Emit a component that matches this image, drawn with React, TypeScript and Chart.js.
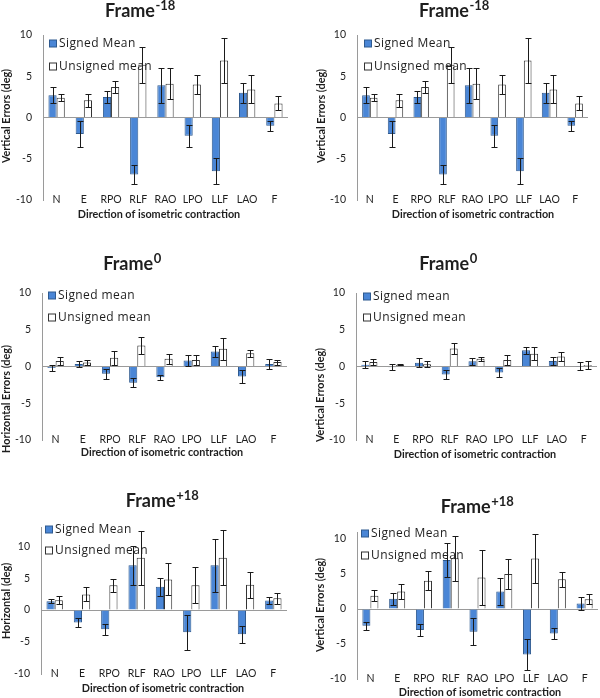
import React, { useEffect, useRef } from 'react';
import { Chart, registerables } from 'chart.js';

Chart.register(...registerables);

// ---------- data ----------
const categories = ['N', 'E', 'RPO', 'RLF', 'RAO', 'LPO', 'LLF', 'LAO', 'F'];
const yTickValues = [-10, -5, 0, 5, 10];

// Frame -18, vertical errors (top row; both panels show the same data)
const topSigned = [2.7, -2.0, 2.5, -6.9, 3.9, -2.2, -6.5, 3.0, -1.0];
const topSignedSd = [0.95, 1.6, 0.7, 1.2, 2.1, 1.35, 1.6, 1.2, 0.6];
const topUnsigned = [2.4, 2.1, 3.7, 6.4, 4.1, 4.0, 6.9, 3.4, 1.7];
const topUnsignedSd = [0.4, 0.8, 0.75, 2.2, 1.9, 1.15, 2.75, 1.7, 0.85];

// Frame 0, horizontal errors
const midHSigned = [-0.2, 0.35, -1.0, -2.2, -1.45, 0.8, 2.05, -1.35, 0.35];
const midHSignedSd = [0.4, 0.45, 0.7, 0.6, 0.35, 0.7, 0.8, 0.9, 0.65];
const midHUnsigned = [0.75, 0.55, 1.2, 2.85, 1.05, 0.9, 2.4, 1.8, 0.6];
const midHUnsignedSd = [0.6, 0.3, 0.95, 1.15, 0.7, 0.7, 1.45, 0.45, 0.35];

// Frame 0, vertical errors
const midVSigned = [0.25, -0.1, 0.5, -1.1, 0.7, -0.8, 2.2, 0.75, 0.05];
const midVSignedSd = [0.45, 0.4, 0.6, 0.6, 0.45, 0.6, 0.5, 0.6, 0.55];
const midVUnsigned = [0.6, 0.25, 0.3, 2.45, 1.05, 0.9, 1.75, 1.35, 0.2];
const midVUnsignedSd = [0.4, 0.1, 0.4, 0.7, 0.3, 0.65, 0.85, 0.6, 0.5];

// Frame +18, horizontal errors
const botHSigned = [1.4, -1.95, -3.0, 7.0, 3.65, -3.45, 7.0, -3.8, 1.5];
const botHSignedSd = [0.35, 0.65, 0.85, 3.1, 1.4, 2.75, 4.1, 1.35, 0.5];
const botHUnsigned = [1.55, 2.45, 3.9, 8.2, 4.8, 3.9, 8.2, 3.95, 1.85];
const botHUnsignedSd = [0.6, 1.1, 1.0, 4.25, 2.5, 2.85, 4.35, 2.0, 0.9];

// Frame +18, vertical errors
const botVSigned = [-2.4, 1.45, -3.0, 7.0, -3.25, 2.5, -6.5, -3.5, 0.8];
const botVSignedSd = [0.6, 0.85, 0.85, 2.4, 1.95, 1.9, 2.25, 0.85, 0.9];
const botVUnsigned = [1.9, 2.5, 4.05, 7.25, 4.5, 5.0, 7.2, 4.25, 1.4];
const botVUnsignedSd = [0.75, 1.1, 1.35, 3.2, 3.9, 2.1, 3.5, 1.1, 0.75];

// ---------- style ----------
const FONT = 'Lato, "Open Sans", sans-serif';
const LEG_FONT = '"Open Sans", Lato, sans-serif';
const BLUE = '#4a86d6';
const BLUE_EDGE = '#2f5a8f';
const AXIS_GRAY = '#9a9a9a';
const TEXT = '#1e1e1e';

type Panel = {
  ox: number; oy: number; h: number;
  yw: number; pt: number; pr: number; bottom: number; yMax: number;
  sup: string; titleX: number; titleY: number;
  yTitle: string; yTitleX: number; yTitleY: number;
  xTitleX: number; xTitleY: number;
  legX: number; legY1: number; legY2: number;
  signedLabel: string;
  signed: number[]; signedSd: number[]; unsigned: number[]; unsignedSd: number[];
};

const panels: Panel[] = [
  { ox: 0, oy: 0, h: 230, yw: 43, pt: 35, pr: 12, bottom: 200, yMax: 10,
    sup: '-18', titleX: 140, titleY: 10, yTitle: 'Vertical Errors (deg)', yTitleX: 7, yTitleY: 116,
    xTitleX: 159, xTitleY: 215, legX: 49, legY1: 43, legY2: 66, signedLabel: 'Signed Mean',
    signed: topSigned, signedSd: topSignedSd, unsigned: topUnsigned, unsignedSd: topUnsignedSd },
  { ox: 300, oy: 0, h: 230, yw: 57, pt: 35, pr: 12, bottom: 200, yMax: 10,
    sup: '-18', titleX: 154, titleY: 10, yTitle: 'Vertical Errors (deg)', yTitleX: 22, yTitleY: 116,
    xTitleX: 173, xTitleY: 215, legX: 64, legY1: 43, legY2: 66, signedLabel: 'Signed Mean',
    signed: topSigned, signedSd: topSignedSd, unsigned: topUnsigned, unsignedSd: topUnsignedSd },
  { ox: 0, oy: 230, h: 230, yw: 42, pt: 63, pr: 13, bottom: 210, yMax: 10,
    sup: '0', titleX: 132, titleY: 33, yTitle: 'Horizontal Errors (deg)', yTitleX: 7, yTitleY: 169,
    xTitleX: 162, xTitleY: 223, legX: 48, legY1: 65, legY2: 87, signedLabel: 'Signed mean',
    signed: midHSigned, signedSd: midHSignedSd, unsigned: midHUnsigned, unsignedSd: midHUnsignedSd },
  { ox: 300, oy: 230, h: 230, yw: 56, pt: 63, pr: 3, bottom: 210, yMax: 10,
    sup: '0', titleX: 148, titleY: 33, yTitle: 'Vertical Errors (deg)', yTitleX: 21, yTitleY: 165,
    xTitleX: 175, xTitleY: 225, legX: 63, legY1: 66, legY2: 87, signedLabel: 'Signed mean',
    signed: midVSigned, signedSd: midVSignedSd, unsigned: midVUnsigned, unsignedSd: midVUnsignedSd },
  { ox: 0, oy: 460, h: 238, yw: 41, pt: 67, pr: 13, bottom: 214, yMax: 13,
    sup: '+18', titleX: 162, titleY: 40, yTitle: 'Horizontal (deg)', yTitleX: 7, yTitleY: 141,
    xTitleX: 163, xTitleY: 229, legX: 45, legY1: 69, legY2: 90, signedLabel: 'Signed Mean',
    signed: botHSigned, signedSd: botHSignedSd, unsigned: botHUnsigned, unsignedSd: botHUnsignedSd },
  { ox: 300, oy: 460, h: 238, yw: 57, pt: 72, pr: 2, bottom: 219, yMax: 11,
    sup: '+18', titleX: 177, titleY: 46, yTitle: 'Vertical Errors (deg)', yTitleX: 21, yTitleY: 145,
    xTitleX: 180, xTitleY: 233, legX: 61, legY1: 73, legY2: 95, signedLabel: 'Signed Mean',
    signed: botVSigned, signedSd: botVSignedSd, unsigned: botVUnsigned, unsignedSd: botVUnsignedSd },
];

const errorBarPlugin = {
  id: 'errorBars',
  afterDatasetsDraw(chart: any) {
    const ctx = chart.ctx;
    const ys = chart.scales.y;
    ctx.save();
    ctx.strokeStyle = '#1a1a1a';
    ctx.lineWidth = 1;
    chart.data.datasets.forEach((ds: any, i: number) => {
      const meta = chart.getDatasetMeta(i);
      meta.data.forEach((el: any, j: number) => {
        const v = ds.data[j];
        const e = ds.errors[j];
        const x = Math.round(el.x) + 0.5;
        const y1 = Math.round(ys.getPixelForValue(v + e)) + 0.5;
        const y2 = Math.round(ys.getPixelForValue(v - e)) + 0.5;
        ctx.beginPath();
        ctx.moveTo(x, y1); ctx.lineTo(x, y2);
        ctx.moveTo(x - 3, y1); ctx.lineTo(x + 3, y1);
        ctx.moveTo(x - 3, y2); ctx.lineTo(x + 3, y2);
        ctx.stroke();
      });
    });
    ctx.restore();
  },
};

function makeTextPlugin(p: Panel) {
  return {
    id: 'panelText',
    afterDraw(chart: any) {
      const ctx = chart.ctx;
      const area = chart.chartArea;
      const xs = chart.scales.x;
      ctx.save();
      ctx.fillStyle = TEXT;

      // category labels, placed on the bottom edge of the plot (Excel "low" labels)
      ctx.font = `10.5px ${FONT}`;
      ctx.textAlign = 'center';
      ctx.textBaseline = 'middle';
      categories.forEach((c, i) => {
        ctx.fillText(c, xs.getPixelForValue(i), area.bottom);
      });

      // title with superscript
      ctx.font = `bold 18px ${FONT}`;
      const wMain = ctx.measureText('Frame').width;
      ctx.font = `bold 13px ${FONT}`;
      const wSup = ctx.measureText(p.sup).width;
      const start = p.titleX - (wMain + wSup) / 2;
      ctx.textAlign = 'left';
      ctx.font = `bold 18px ${FONT}`;
      ctx.fillText('Frame', start, p.titleY + 1);
      ctx.font = `bold 13px ${FONT}`;
      ctx.fillText(p.sup, start + wMain + 0.5, p.titleY - 4);

      // x-axis title
      ctx.font = `bold 10.8px ${FONT}`;
      ctx.textAlign = 'center';
      ctx.fillText('Direction of isometric contraction', p.xTitleX, p.xTitleY);

      // y-axis title
      ctx.save();
      ctx.translate(p.yTitleX, p.yTitleY);
      ctx.rotate(-Math.PI / 2);
      ctx.fillText(p.yTitle, 0, 0);
      ctx.restore();

      // legend
      const sq = 7;
      ctx.lineWidth = 1;
      ctx.fillStyle = BLUE;
      ctx.fillRect(p.legX + 0.5, p.legY1 - sq / 2 + 0.5, sq, sq);
      ctx.strokeStyle = BLUE_EDGE;
      ctx.strokeRect(p.legX + 0.5, p.legY1 - sq / 2 + 0.5, sq, sq);
      ctx.fillStyle = '#ffffff';
      ctx.fillRect(p.legX + 0.5, p.legY2 - sq / 2 + 0.5, sq, sq);
      ctx.strokeStyle = '#333333';
      ctx.strokeRect(p.legX + 0.5, p.legY2 - sq / 2 + 0.5, sq, sq);
      ctx.fillStyle = TEXT;
      ctx.font = `12px ${LEG_FONT}`;
      try { (ctx as any).letterSpacing = '0.4px'; } catch (e) { /* ignore */ }
      ctx.textAlign = 'left';
      ctx.textBaseline = 'middle';
      ctx.fillText(p.signedLabel, p.legX + 10, p.legY1 + 1);
      ctx.fillText('Unsigned mean', p.legX + 10, p.legY2 + 1);
      try { (ctx as any).letterSpacing = '0px'; } catch (e) { /* ignore */ }
      ctx.restore();
    },
  };
}

function PanelChart({ p }: { p: Panel }) {
  const ref = useRef<HTMLCanvasElement | null>(null);
  useEffect(() => {
    if (!ref.current) return;
    const xh = p.h - p.bottom;
    const chart = new Chart(ref.current, {
      type: 'bar',
      data: {
        labels: categories,
        datasets: [
          { label: p.signedLabel, data: p.signed, errors: p.signedSd, backgroundColor: BLUE,
            borderColor: BLUE_EDGE, borderWidth: 1 } as any,
          { label: 'Unsigned mean', data: p.unsigned, errors: p.unsignedSd, backgroundColor: '#ffffff',
            borderColor: '#333333', borderWidth: 1 } as any,
        ],
      },
      options: {
        animation: false,
        responsive: false,
        maintainAspectRatio: false,
        devicePixelRatio: 1,
        events: [],
        layout: { padding: { left: 0, top: p.pt, right: p.pr, bottom: 0 } },
        datasets: { bar: { categoryPercentage: 0.6, barPercentage: 1 } },
        plugins: { legend: { display: false }, title: { display: false }, tooltip: { enabled: false } },
        scales: {
          x: {
            grid: { display: false },
            border: { display: false },
            ticks: { display: false },
            afterFit: (s: any) => { s.height = xh; },
          },
          y: {
            min: -10,
            max: p.yMax,
            afterBuildTicks: (s: any) => { s.ticks = yTickValues.map((v) => ({ value: v })); },
            grid: {
              drawTicks: false,
              lineWidth: 1,
              color: (c: any) => (c.tick && c.tick.value === 0 ? AXIS_GRAY : 'rgba(0,0,0,0)'),
            },
            border: { display: true, color: AXIS_GRAY },
            ticks: { padding: 11, color: TEXT, font: { family: FONT, size: 10.5 },
              callback: (v: any) => String(v) },
            afterFit: (s: any) => { s.width = p.yw; },
          },
        },
      } as any,
      plugins: [errorBarPlugin, makeTextPlugin(p)],
    });
    return () => chart.destroy();
  }, [p]);
  return (
    <canvas ref={ref} width={300} height={p.h}
      style={{ position: 'absolute', left: p.ox, top: p.oy, width: 300, height: p.h }} />
  );
}

export default function App() {
  return (
    <div style={{ position: 'absolute', left: 0, top: 0, width: 600, height: 698, background: '#ffffff' }}>
      {panels.map((p, i) => (
        <PanelChart key={i} p={p} />
      ))}
    </div>
  );
}
